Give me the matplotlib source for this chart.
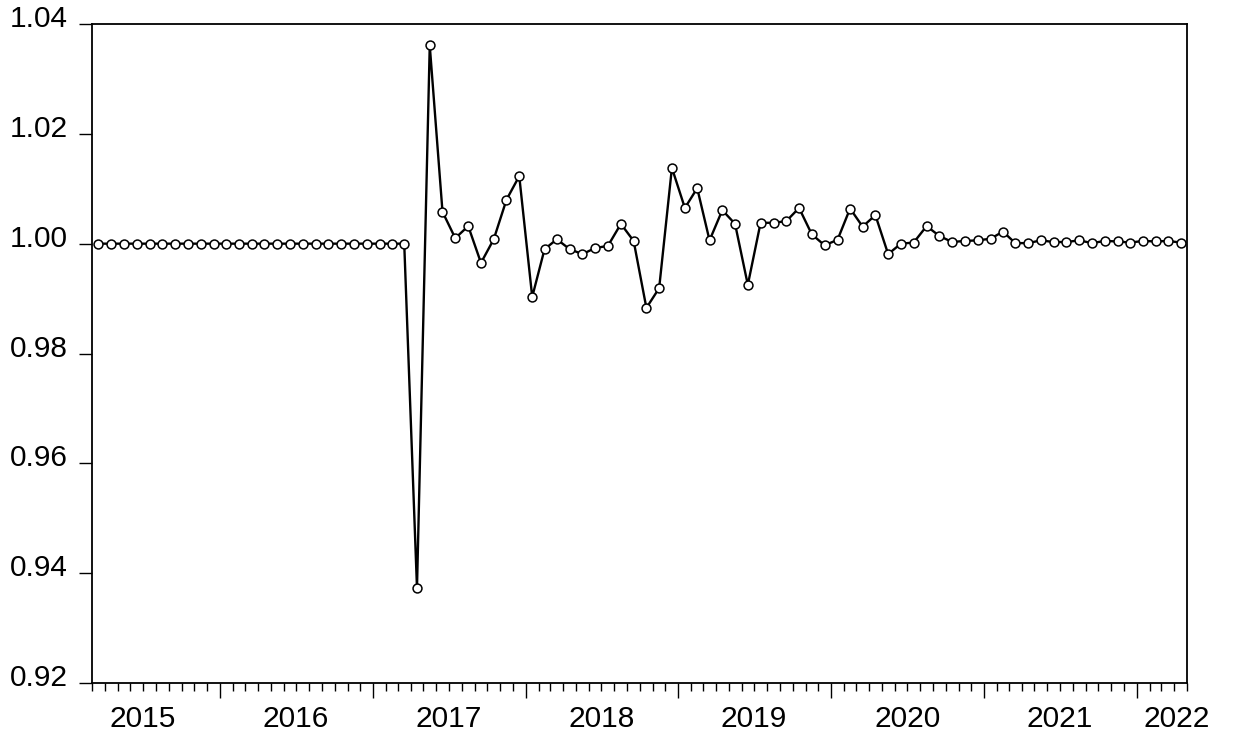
import matplotlib
matplotlib.use("Agg")
import matplotlib.pyplot as plt
import matplotlib.dates as mdates
import matplotlib.transforms as mtransforms
import pandas as pd

# ---- data ----
start_month = "2015-03-01"
n_months = 86
values = [
    1.0000, 1.0000, 1.0000, 1.0000, 1.0000, 1.0000, 1.0000, 1.0000, 1.0000, 1.0000,
    1.0000, 1.0000, 1.0000, 1.0000, 1.0000, 1.0000, 1.0000, 1.0000, 1.0000, 1.0000,
    1.0000, 1.0000, 1.0000, 1.0000, 1.0000,
    0.9373, 1.0361, 1.0058, 1.0010, 1.0032, 0.9965, 1.0008, 1.0080, 1.0123, 0.9903,
    0.9990, 1.0008, 0.9990, 0.9981, 0.9992, 0.9996, 1.0036, 1.0005, 0.9883, 0.9919,
    1.0138, 1.0065, 1.0101, 1.0006, 1.0061, 1.0036, 0.9925, 1.0038, 1.0038, 1.0041,
    1.0065, 1.0017, 0.9997, 1.0007, 1.0064, 1.0031, 1.0052, 0.9981, 1.0000, 1.0002,
    1.0032, 1.0014, 1.0003, 1.0005, 1.0006, 1.0009, 1.0022, 1.0001, 1.0001, 1.0006,
    1.0003, 1.0003, 1.0006, 1.0001, 1.0005, 1.0004, 1.0002, 1.0005, 1.0004, 1.0005,
    1.0002,
]
years = [2015, 2016, 2017, 2018, 2019, 2020, 2021, 2022]
y_ticks = [0.92, 0.94, 0.96, 0.98, 1.00, 1.02, 1.04]
y_tick_labels = ["0.92", "0.94", "0.96", "0.98", "1.00", "1.02", "1.04"]

# ---- figure ----
plt.rcParams["font.family"] = ["Liberation Sans", "DejaVu Sans"]
fig = plt.figure(figsize=(12.45, 7.38), dpi=100)
ax = fig.add_axes([0.0739, 0.0745, 0.9534 - 0.0739, 0.9675 - 0.0745])

month_starts = pd.date_range(start_month, periods=n_months + 1, freq="MS")
x = month_starts[:-1] + (month_starts[1:] - month_starts[:-1]) / 2

ax.plot(x, values, color="black", lw=1.7, marker="o", ms=6.4,
        mfc="white", mec="black", mew=1.1, zorder=3)

ax.set_xlim(month_starts[0], month_starts[-1])
ax.set_ylim(0.92, 1.04)

# y axis
ax.yaxis.set_major_locator(matplotlib.ticker.FixedLocator(y_ticks))
ax.set_yticklabels(y_tick_labels)
ax.tick_params(axis="y", direction="out", length=9.4, width=1.0, pad=8,
               labelsize=21.5, colors="black")
off = mtransforms.ScaledTranslation(0, 8 / 100, fig.dpi_scale_trans)
for lab in ax.get_yticklabels():
    lab.set_transform(lab.get_transform() + off)

# x axis
ax.xaxis.set_major_locator(mdates.YearLocator())
ax.xaxis.set_minor_locator(mdates.MonthLocator())
ax.xaxis.set_major_formatter(matplotlib.ticker.NullFormatter())
ax.tick_params(axis="x", which="major", direction="out", length=10.8, width=1.0)
ax.tick_params(axis="x", which="minor", direction="out", length=5.8, width=1.0)

xmin, xmax = ax.get_xlim()
trans = mtransforms.blended_transform_factory(ax.transData, ax.transAxes)
for yr in years:
    c = mdates.date2num(pd.Timestamp(f"{yr}-07-01"))
    if c > xmax:
        c = xmax - 24
    ax.text(c, -0.034, str(yr), transform=trans, ha="center", va="top",
            fontsize=21.5, color="black")

for s in ax.spines.values():
    s.set_linewidth(1.3)
    s.set_color("black")

fig.savefig("out.png", dpi=100, facecolor="white")
